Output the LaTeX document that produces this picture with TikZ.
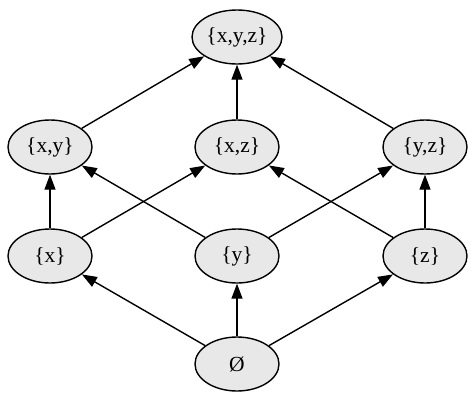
\documentclass[tikz,border=0pt]{standalone}
\usepackage{fontspec}
\setmainfont{Liberation Serif}
\usetikzlibrary{arrows.meta,shapes.geometric}
\definecolor{nodefill}{HTML}{E8E8E8}
\tikzset{
  setnode/.style={ellipse, draw=black, line width=1.4pt, fill=nodefill,
    minimum width=84pt, minimum height=54pt, inner sep=0pt,
    font=\fontsize{21.5}{23}\selectfont},
  edge/.style={draw=black, line width=1.4pt, -{Triangle[length=15pt,width=11pt]}}
}
\begin{document}
\begin{tikzpicture}[x=1pt,y=-1pt]
\useasboundingbox (0,0) rectangle (474,400);
\node[setnode, minimum width=90pt] (xyz) at (237,37) {\{x,y,z\}};
\node[setnode] (xy) at (50,147) {\{x,y\}};
\node[setnode] (xz) at (237,147) {\{x,z\}};
\node[setnode] (yz) at (425,147) {\{y,z\}};
\node[setnode] (x) at (50,256) {\{x\}};
\node[setnode] (y) at (237,256) {\{y\}};
\node[setnode] (z) at (425,256) {\{z\}};
\node[setnode] (e) at (237,364) {Ø};
\draw[edge] (e) -- (x);
\draw[edge] (e) -- (y);
\draw[edge] (e) -- (z);
\draw[edge] (x) -- (xy);
\draw[edge] (x) -- (xz);
\draw[edge] (y) -- (xy);
\draw[edge] (y) -- (yz);
\draw[edge] (z) -- (xz);
\draw[edge] (z) -- (yz);
\draw[edge] (xy) -- (xyz);
\draw[edge] (xz) -- (xyz);
\draw[edge] (yz) -- (xyz);
\end{tikzpicture}
\end{document}
